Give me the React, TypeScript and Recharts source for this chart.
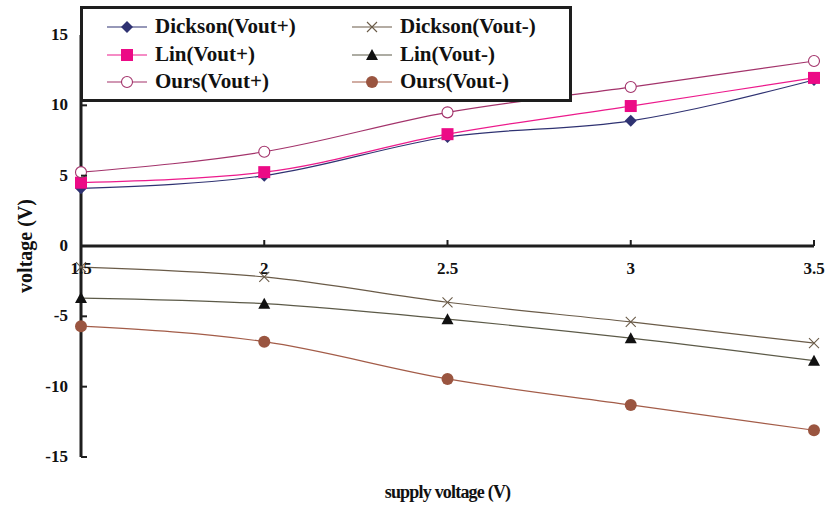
import React from "react";
import {
  LineChart,
  Line,
  XAxis,
  YAxis,
  ReferenceLine,
  ReferenceDot
} from "recharts";

const supply = [1.5, 2, 2.5, 3, 3.5];
const yTicks = [-15, -10, -5, 0, 5, 10, 15];

const dicksonPos = [4.1, 5.0, 7.75, 8.9, 11.8];
const linPos = [4.5, 5.25, 7.95, 9.95, 11.95];
const oursPos = [5.25, 6.7, 9.5, 11.3, 13.15];
const dicksonNeg = [-1.5, -2.2, -4.0, -5.4, -6.9];
const linNeg = [-3.7, -4.1, -5.2, -6.55, -8.15];
const oursNeg = [-5.7, -6.8, -9.45, -11.3, -13.1];

const data = supply.map((x, i) => ({
  x,
  dicksonPos: dicksonPos[i],
  linPos: linPos[i],
  oursPos: oursPos[i],
  dicksonNeg: dicksonNeg[i],
  linNeg: linNeg[i],
  oursNeg: oursNeg[i]
}));

const FONT = "'Liberation Serif', 'Times New Roman', serif";
const AXIS = "#1e1e1e";

type Shape = "diamond" | "cross" | "square" | "triangle" | "circle" | "dot";

const Marker = ({ cx, cy, shape, color }: { cx: number; cy: number; shape: Shape; color: string }) => {
  switch (shape) {
    case "diamond":
      return <polygon points={`${cx},${cy - 6} ${cx + 6},${cy} ${cx},${cy + 6} ${cx - 6},${cy}`} fill={color} />;
    case "cross":
      return (
        <g stroke={color} strokeWidth={1.1}>
          <line x1={cx - 5} y1={cy - 5} x2={cx + 5} y2={cy + 5} />
          <line x1={cx - 5} y1={cy + 5} x2={cx + 5} y2={cy - 5} />
        </g>
      );
    case "square":
      return <rect x={cx - 6} y={cy - 6} width={12} height={12} fill={color} />;
    case "triangle":
      return <polygon points={`${cx},${cy - 6} ${cx + 6},${cy + 5} ${cx - 6},${cy + 5}`} fill={color} />;
    case "circle":
      return <circle cx={cx} cy={cy} r={5.5} fill="#fff" stroke={color} strokeWidth={1.1} />;
    default:
      return <circle cx={cx} cy={cy} r={6} fill={color} />;
  }
};

const series: { key: string; name: string; color: string; marker: string; shape: Shape }[] = [
  { key: "dicksonPos", name: "Dickson(Vout+)", color: "#2f3272", marker: "#2f3272", shape: "diamond" },
  { key: "dicksonNeg", name: "Dickson(Vout-)", color: "#6a5b48", marker: "#6a5b48", shape: "cross" },
  { key: "linPos", name: "Lin(Vout+)", color: "#ec1a8c", marker: "#ec0a86", shape: "square" },
  { key: "linNeg", name: "Lin(Vout-)", color: "#5c5a48", marker: "#111", shape: "triangle" },
  { key: "oursPos", name: "Ours(Vout+)", color: "#a3336b", marker: "#a3336b", shape: "circle" },
  { key: "oursNeg", name: "Ours(Vout-)", color: "#a35c48", marker: "#9a5540", shape: "dot" }
];

const YTick = (props: any) => {
  const { x, y, payload } = props;
  return (
    <g>
      <text x={x} y={y} dy={5} textAnchor="end" fontFamily={FONT} fontWeight="bold" fontSize={17} fill="#111">
        {payload.value}
      </text>
      <line x1={x + 13} y1={y} x2={x + 19} y2={y} stroke={AXIS} strokeWidth={2} />
    </g>
  );
};

const XTick = (value: number) => (props: any) => {
  const { cx, cy } = props;
  return (
    <g>
      <line x1={cx} y1={cy} x2={cx} y2={cy - 6} stroke={AXIS} strokeWidth={2} />
      <text x={cx} y={cy + 28} textAnchor="middle" fontFamily={FONT} fontWeight="bold" fontSize={17} fill="#111">
        {value}
      </text>
    </g>
  );
};

const LegendBox = () => (
  <div
    style={{
      position: "absolute",
      left: 80,
      top: 6,
      width: 486,
      height: 87,
      border: `3px solid ${AXIS}`,
      background: "#fff",
      display: "grid",
      gridTemplateColumns: "245px 241px",
      gridTemplateRows: "29px 27px 27px",
      paddingTop: 3,
      boxSizing: "content-box",
      fontFamily: FONT,
      fontWeight: "bold",
      fontSize: 21,
      color: "#111"
    }}
  >
    {series.map((s) => (
      <div key={s.key} style={{ display: "flex", alignItems: "center" }}>
        <svg width={72} height={20} style={{ marginLeft: 24, flex: "none" }}>
          <line x1={0} y1={10} x2={40} y2={10} stroke={s.color} strokeWidth={1.2} />
          <Marker cx={20} cy={10} shape={s.shape} color={s.marker} />
        </svg>
        <span style={{ marginLeft: -24, whiteSpace: "nowrap" }}>{s.name}</span>
      </div>
    ))}
  </div>
);

export default function App() {
  return (
    <div style={{ position: "absolute", left: 0, top: 0, width: 827, height: 506, background: "#fff" }}>
      <LineChart width={827} height={506} data={data} margin={{ top: 35, right: 13, left: 21, bottom: 0 }}>
        <XAxis
          dataKey="x"
          type="number"
          domain={[1.5, 3.5]}
          ticks={supply}
          height={49}
          axisLine={false}
          tickLine={false}
          tick={false}
          label={{
            value: "supply voltage (V)",
            position: "insideBottom",
            offset: 8,
            style: { fontFamily: FONT, fontWeight: "bold", fontSize: 18, letterSpacing: -0.8, fill: "#111" }
          }}
        />
        <YAxis
          type="number"
          domain={[-15, 15]}
          ticks={yTicks}
          width={60}
          axisLine={{ stroke: AXIS, strokeWidth: 3 }}
          tickLine={false}
          tickSize={0}
          tickMargin={13}
          tick={<YTick />}
          label={{
            value: "voltage (V)",
            angle: -90,
            position: "insideLeft",
            offset: 4,
            style: { fontFamily: FONT, fontWeight: "bold", fontSize: 20, fill: "#111", textAnchor: "middle" }
          }}
        />
        <ReferenceLine y={0} stroke={AXIS} strokeWidth={3} />
        {supply.map((v) => (
          <ReferenceDot key={v} x={v} y={0} r={0} shape={XTick(v)} />
        ))}
        {series.map((s) => (
          <Line
            key={s.key}
            type="monotone"
            dataKey={s.key}
            name={s.name}
            stroke={s.color}
            strokeWidth={1.2}
            dot={(p: any) => <Marker key={`${s.key}-${p.index}`} cx={p.cx} cy={p.cy} shape={s.shape} color={s.marker} />}
            isAnimationActive={false}
          />
        ))}
      </LineChart>
      <LegendBox />
    </div>
  );
}
